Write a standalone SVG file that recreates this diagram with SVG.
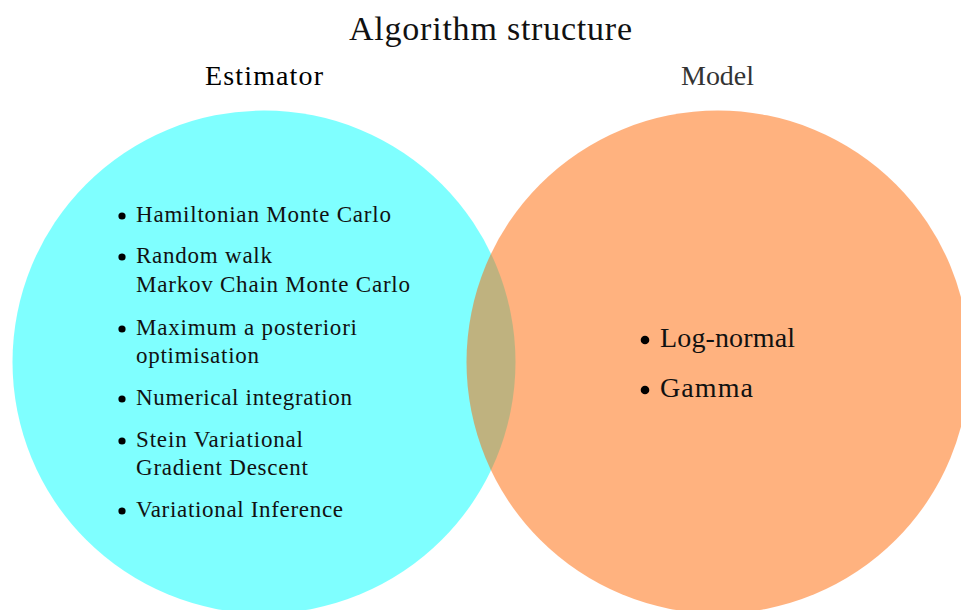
<svg xmlns="http://www.w3.org/2000/svg" width="961" height="610" viewBox="0 0 961 610">
<style>
text{font-family:"Liberation Serif","Times New Roman",serif;fill:#111;}
.title{font-size:34px;}
.hdr{font-size:28px;}
.item{font-size:23px;}
.big{font-size:28px;}
.bul{fill:#000;}
</style>
<rect width="961" height="610" fill="#fff"/>
<text class="title" x="349" y="40" textLength="283" lengthAdjust="spacing">Algorithm structure</text>
<g id="estimator">
<circle cx="264" cy="362" r="251.5" fill="#00FFFF" fill-opacity="0.5"/>
<text class="hdr" x="205" y="85" textLength="118" lengthAdjust="spacing" style="fill:#000">Estimator</text>
<g class="bul">
<circle cx="122" cy="216" r="3.6"/>
<circle cx="122" cy="257" r="3.6"/>
<circle cx="122" cy="329" r="3.6"/>
<circle cx="122" cy="399" r="3.6"/>
<circle cx="122" cy="441" r="3.6"/>
<circle cx="122" cy="511" r="3.6"/>
</g>
<text class="item" x="136" y="222" textLength="255" lengthAdjust="spacing">Hamiltonian Monte Carlo</text>
<text class="item" x="136" y="263" textLength="136" lengthAdjust="spacing">Random walk</text>
<text class="item" x="136" y="292" textLength="274" lengthAdjust="spacing">Markov Chain Monte Carlo</text>
<text class="item" x="136" y="335" textLength="221" lengthAdjust="spacing">Maximum a posteriori</text>
<text class="item" x="136" y="363" textLength="123" lengthAdjust="spacing">optimisation</text>
<text class="item" x="136" y="405" textLength="216" lengthAdjust="spacing">Numerical integration</text>
<text class="item" x="136" y="447" textLength="167" lengthAdjust="spacing">Stein Variational</text>
<text class="item" x="136" y="475" textLength="172" lengthAdjust="spacing">Gradient Descent</text>
<text class="item" x="136" y="517" textLength="207" lengthAdjust="spacing">Variational Inference</text>
</g>
<g id="model">
<circle cx="718" cy="362" r="251.5" fill="#FF6600" fill-opacity="0.5"/>
<text class="hdr" x="681" y="85" textLength="73" lengthAdjust="spacing" style="fill:#333">Model</text>
<g class="bul">
<circle cx="645" cy="340" r="4.3"/>
<circle cx="645" cy="390" r="4.3"/>
</g>
<text class="big" x="660" y="347" textLength="135" lengthAdjust="spacing">Log-normal</text>
<text class="big" x="660" y="397" textLength="93" lengthAdjust="spacing">Gamma</text>
</g>
<g id="connectors"></g>
</svg>
